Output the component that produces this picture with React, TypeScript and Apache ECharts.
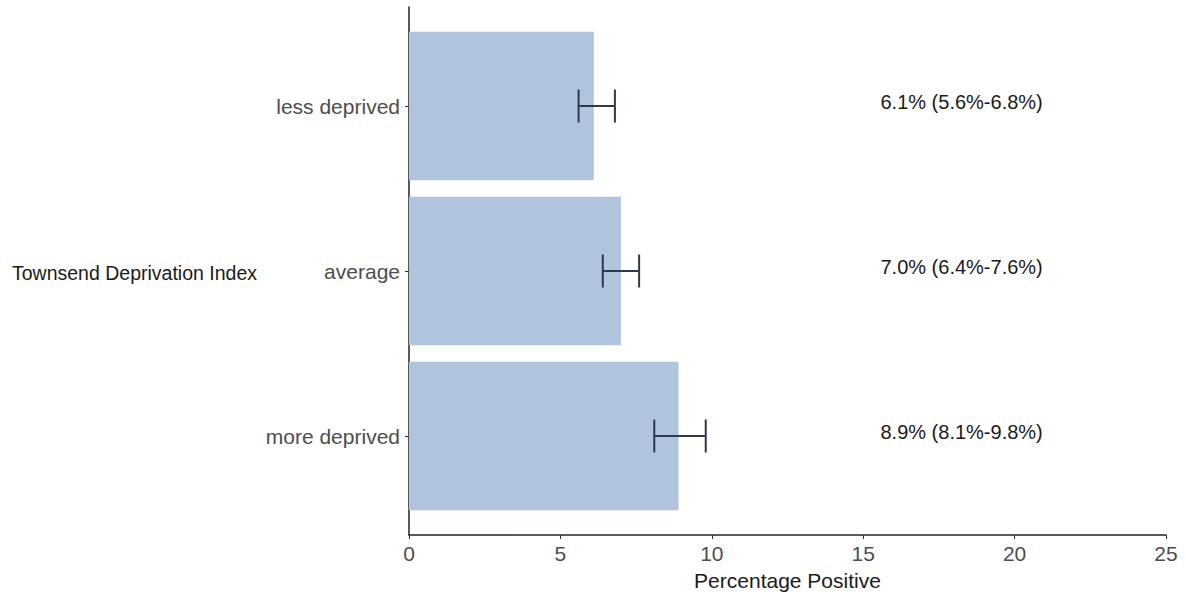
import React, { useEffect, useRef } from "react";
import * as echarts from "echarts";

const categories = ["less deprived", "average", "more deprived"];
const percentPositive = [6.1, 7.0, 8.9];
const lowerCI = [5.6, 6.4, 8.1];
const upperCI = [6.8, 7.6, 9.8];
const yTitle = "Townsend Deprivation Index";
const xTitle = "Percentage Positive";

const FONT = "'Liberation Sans', Arial, sans-serif";
const LABEL_X = 18.25;

export default function App() {
  const ref = useRef<HTMLDivElement>(null);
  useEffect(() => {
    if (!ref.current) return;
    const chart = echarts.init(ref.current, undefined, { renderer: "svg" });
    const data = categories.map((c, i) => [i, percentPositive[i], lowerCI[i], upperCI[i]]);
    const labels = categories.map(
      (_, i) =>
        `${percentPositive[i].toFixed(1)}% (${lowerCI[i].toFixed(1)}%-${upperCI[i].toFixed(1)}%)`
    );
    chart.setOption({
      animation: false,
      backgroundColor: "#ffffff",
      grid: { left: 409, right: 20, top: 7, bottom: 58, containLabel: false },
      xAxis: {
        type: "value",
        min: 0,
        max: 25,
        interval: 5,
        name: xTitle,
        nameLocation: "middle",
        nameGap: 35,
        nameTextStyle: { color: "#1a1a1a", fontSize: 21, fontFamily: FONT },
        axisLine: { show: true, onZero: false, lineStyle: { color: "#222", width: 1.5 } },
        axisTick: { show: true, length: 4, lineStyle: { color: "#333" } },
        axisLabel: {
          color: "#4d4d4d",
          fontSize: 21,
          fontFamily: FONT,
          margin: 8,
        },
        splitLine: { show: false },
      },
      yAxis: {
        type: "value",
        min: -0.6,
        max: 2.6,
        inverse: true,
        axisLine: { show: true, onZero: false, lineStyle: { color: "#222", width: 1.5 } },
        axisTick: { show: true, length: 4, customValues: [0, 1, 2], lineStyle: { color: "#333" } },
        axisLabel: {
          color: "#4d4d4d",
          fontSize: 21,
          fontFamily: FONT,
          margin: 9,
          customValues: [0, 1, 2],
          formatter: (v: number) => categories[Math.round(v)] ?? "",
        },
        splitLine: { show: false },
      },
      graphic: [
        {
          type: "text",
          left: 12,
          top: 263,
          style: {
            text: yTitle,
            fill: "#1a1a1a",
            fontSize: 19.5,
            fontFamily: FONT,
          },
        },
      ],
      series: [
        {
          type: "custom",
          data,
          encode: { x: 1, y: 0 },
          clip: false,
          renderItem: (params: any, api: any) => {
            const idx = api.value(0);
            const val = api.value(1);
            const lo = api.value(2);
            const hi = api.value(3);
            const p0 = api.coord([0, idx - 0.45]);
            const p1 = api.coord([val, idx + 0.45]);
            const c = api.coord([lo, idx]);
            const h = api.coord([hi, idx]);
            const capTop = api.coord([lo, idx - 0.1])[1];
            const capBot = api.coord([lo, idx + 0.1])[1];
            const t = api.coord([LABEL_X, idx]);
            const stroke = { stroke: "#2c3a4c", lineWidth: 2 };
            return {
              type: "group",
              children: [
                {
                  type: "rect",
                  shape: { x: p0[0], y: p0[1], width: p1[0] - p0[0], height: p1[1] - p0[1] },
                  style: { fill: "#b0c4de" },
                },
                { type: "line", shape: { x1: c[0], y1: c[1], x2: h[0], y2: h[1] }, style: stroke },
                { type: "line", shape: { x1: c[0], y1: capTop, x2: c[0], y2: capBot }, style: stroke },
                { type: "line", shape: { x1: h[0], y1: capTop, x2: h[0], y2: capBot }, style: stroke },
                {
                  type: "text",
                  x: t[0],
                  y: t[1] - 4,
                  style: {
                    text: labels[params.dataIndex],
                    fill: "#1a1a1a",
                    fontSize: 20,
                    fontFamily: FONT,
                    align: "center",
                    verticalAlign: "middle",
                  },
                },
              ],
            };
          },
        },
      ],
    });
    return () => chart.dispose();
  }, []);
  return (
    <div
      ref={ref}
      style={{ position: "absolute", left: 0, top: 0, width: 1186, height: 596 }}
    />
  );
}
